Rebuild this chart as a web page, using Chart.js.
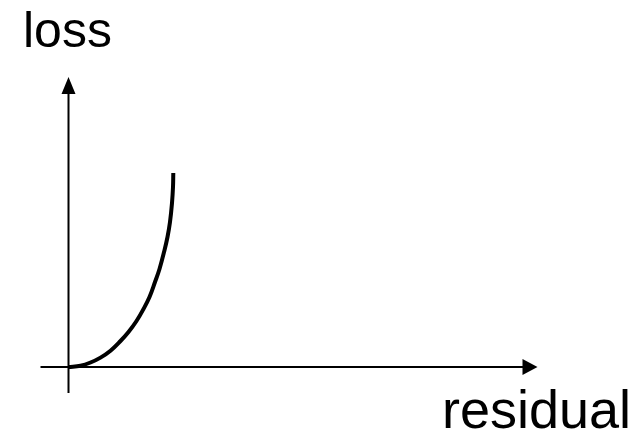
<!DOCTYPE html>
<html>
<head>
<meta charset="utf-8">
<script src="https://cdn.jsdelivr.net/npm/chart.js@4/dist/chart.umd.min.js"></script>
<style>
  html, body { margin: 0; padding: 0; background: #fff; overflow: hidden; }
  #lossChart { display: block; }
</style>
</head>
<body>
<canvas id="lossChart" width="639" height="433"></canvas>
<script>
// curve (residual vs loss)
var residual = [0, 0.12, 0.22, 0.32, 0.42, 0.52, 0.60, 0.68, 0.75, 0.81, 0.865, 0.91, 0.958, 0.99, 1.015, 1.035, 1.045, 1.048];
var loss = [0, 0.013, 0.045, 0.094, 0.163, 0.26, 0.35, 0.46, 0.58, 0.70, 0.85, 0.98, 1.16, 1.30, 1.45, 1.64, 1.80, 1.94];
var xLabel = "residual";
var yLabel = "loss";

// draws the two arrowed axes and their labels
var axesPlugin = {
    id: 'arrowAxes',
    beforeDatasetsDraw: function (chart) {
        var ctx = chart.ctx;
        var xs = chart.scales.x, ys = chart.scales.y;
        var ox = xs.getPixelForValue(0), oy = ys.getPixelForValue(0);
        var xEnd = xs.getPixelForValue(4.69), yEnd = ys.getPixelForValue(2.90);
        ctx.save();
        ctx.strokeStyle = '#000';
        ctx.fillStyle = '#000';
        ctx.lineWidth = 2;
        // x axis
        ctx.beginPath();
        ctx.moveTo(xs.getPixelForValue(-0.28), oy);
        ctx.lineTo(xEnd - 12, oy);
        ctx.stroke();
        ctx.beginPath();
        ctx.moveTo(xEnd, oy);
        ctx.lineTo(xEnd - 15, oy - 8);
        ctx.lineTo(xEnd - 15, oy + 8);
        ctx.closePath();
        ctx.fill();
        // y axis
        ctx.beginPath();
        ctx.moveTo(ox, ys.getPixelForValue(-0.26));
        ctx.lineTo(ox, yEnd + 12);
        ctx.stroke();
        ctx.beginPath();
        ctx.moveTo(ox, yEnd);
        ctx.lineTo(ox - 7, yEnd + 17);
        ctx.lineTo(ox + 7, yEnd + 17);
        ctx.closePath();
        ctx.fill();
        // labels
        ctx.textBaseline = 'alphabetic';
        ctx.textAlign = 'left';
        ctx.font = '50px "Liberation Sans", Arial, sans-serif';
        ctx.fillText(yLabel, 23, 47);
        ctx.font = '54px "Liberation Sans", Arial, sans-serif';
        ctx.fillText(xLabel, 442, 428);
        ctx.restore();
    }
};

var ctx = document.getElementById('lossChart').getContext('2d');
var myChart = new Chart(ctx, {
    type: 'scatter',
    data: {
        datasets: [{
            data: residual.map(function (r, i) { return { x: r, y: loss[i] }; }),
            showLine: true,
            borderColor: '#000',
            borderWidth: 4,
            pointRadius: 0,
            tension: 0.4,
            fill: false
        }]
    },
    options: {
        responsive: false,
        animation: false,
        devicePixelRatio: 1,
        layout: { padding: 0 },
        plugins: { legend: { display: false }, tooltip: { enabled: false } },
        scales: {
            x: { type: 'linear', display: false, min: -0.685, max: 5.705 },
            y: { type: 'linear', display: false, min: -0.66, max: 3.67 }
        }
    },
    plugins: [axesPlugin]
});
</script>
</body>
</html>
